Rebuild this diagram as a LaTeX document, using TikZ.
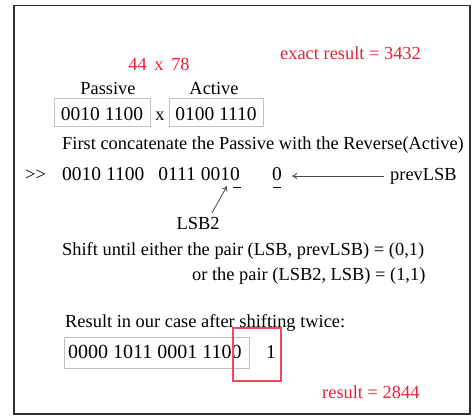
\documentclass[tikz,border=0pt]{standalone}
\usepackage{fontspec}
\setmainfont{Liberation Serif}
\usetikzlibrary{arrows.meta}
\definecolor{redtxt}{HTML}{E8203A}
\definecolor{redline}{HTML}{EE4A5C}
\definecolor{boxgray}{HTML}{C0C0C0}
\definecolor{framegray}{HTML}{303030}
\definecolor{arrgray}{HTML}{4A4A4A}
\begin{document}
\begin{tikzpicture}[x=1pt,y=-1pt,
  txt/.style={inner sep=0pt,anchor=base west,font=\fontsize{18.4}{20}\selectfont},
  ctxt/.style={txt,anchor=base},
  digits/.style={txt,font=\fontsize{19.5}{21}\selectfont},
  red/.style={text=redtxt},
  graybox/.style={draw=boxgray,line width=1pt},
  redbox/.style={draw=redline,line width=1.1pt},
  arr/.style={draw=arrgray,line width=0.8pt,-{To[length=5pt,width=6pt]}},
  uline/.style={draw=black,line width=0.9pt}]
\useasboundingbox (0,0) rectangle (476,419);
\draw[framegray,line width=1.6pt] (14,414) -- (14,5.5) -- (470,5.5) -- (470,414) -- cycle;

\node[txt,red] (exact) at (280,60) {exact result = 3432};
\node[ctxt,red] (nums) at (159,70.5) {44\, x\, 78};
\node[ctxt] (passive) at (108,95) {Passive};
\node[ctxt] (active) at (214,95) {Active};

\draw[graybox] (54,99) rectangle (150,127);
\node[digits,anchor=base] (p) at (102,120.5) {0010 1100};
\node[ctxt] (times) at (160,120.5) {x};
\draw[graybox] (169,99) rectangle (263,127);
\node[digits,anchor=base] (a) at (216,120.5) {0100 1110};

\node[txt] (first) at (62,150) {First concatenate the Passive with the Reverse(Active)};

\node[txt] (gt) at (25,181) {>\kern0pt>};
\node[digits] (concatA) at (62,181) {0010 1100};
\node[digits,anchor=base east] (concatB) at (240,181) {0111 0010};
\draw[uline] (233,187.5) -- (241,187.5);
\node[digits,anchor=base] (zero) at (277,181) {0};
\draw[uline] (273,187.5) -- (281,187.5);
\node[txt] (prev) at (390,181) {prevLSB};
\coordinate (prevstart) at (384,176);
\coordinate (prevend) at (292,176);
\draw[arr] (prevstart) -- (prevend);

\node[ctxt] (lsb2) at (198,230) {LSB2};
\coordinate (lsbtip) at (227,186);
\draw[arr] (212,213) -- (lsbtip);

\node[txt] (shift) at (62,256) {Shift until either the pair (LSB, prevLSB) = (0,1)};
\node[txt] (orpair) at (192,280) {or the pair (LSB2, LSB) = (1,1)};

\node[txt] (res) at (65,327) {Result in our case after shifting twice:};
\draw[graybox] (64,337) rectangle (249,368);
\node[digits,font=\fontsize{20}{22}\selectfont] (bits) at (68,358) {0000 1011 0001 1100};
\node[digits,anchor=base] (one) at (271,358) {1};
\draw[redbox] (233,328) rectangle (281,381);

\node[txt,red] (result) at (322,398) {result = 2844};
\end{tikzpicture}
\end{document}
